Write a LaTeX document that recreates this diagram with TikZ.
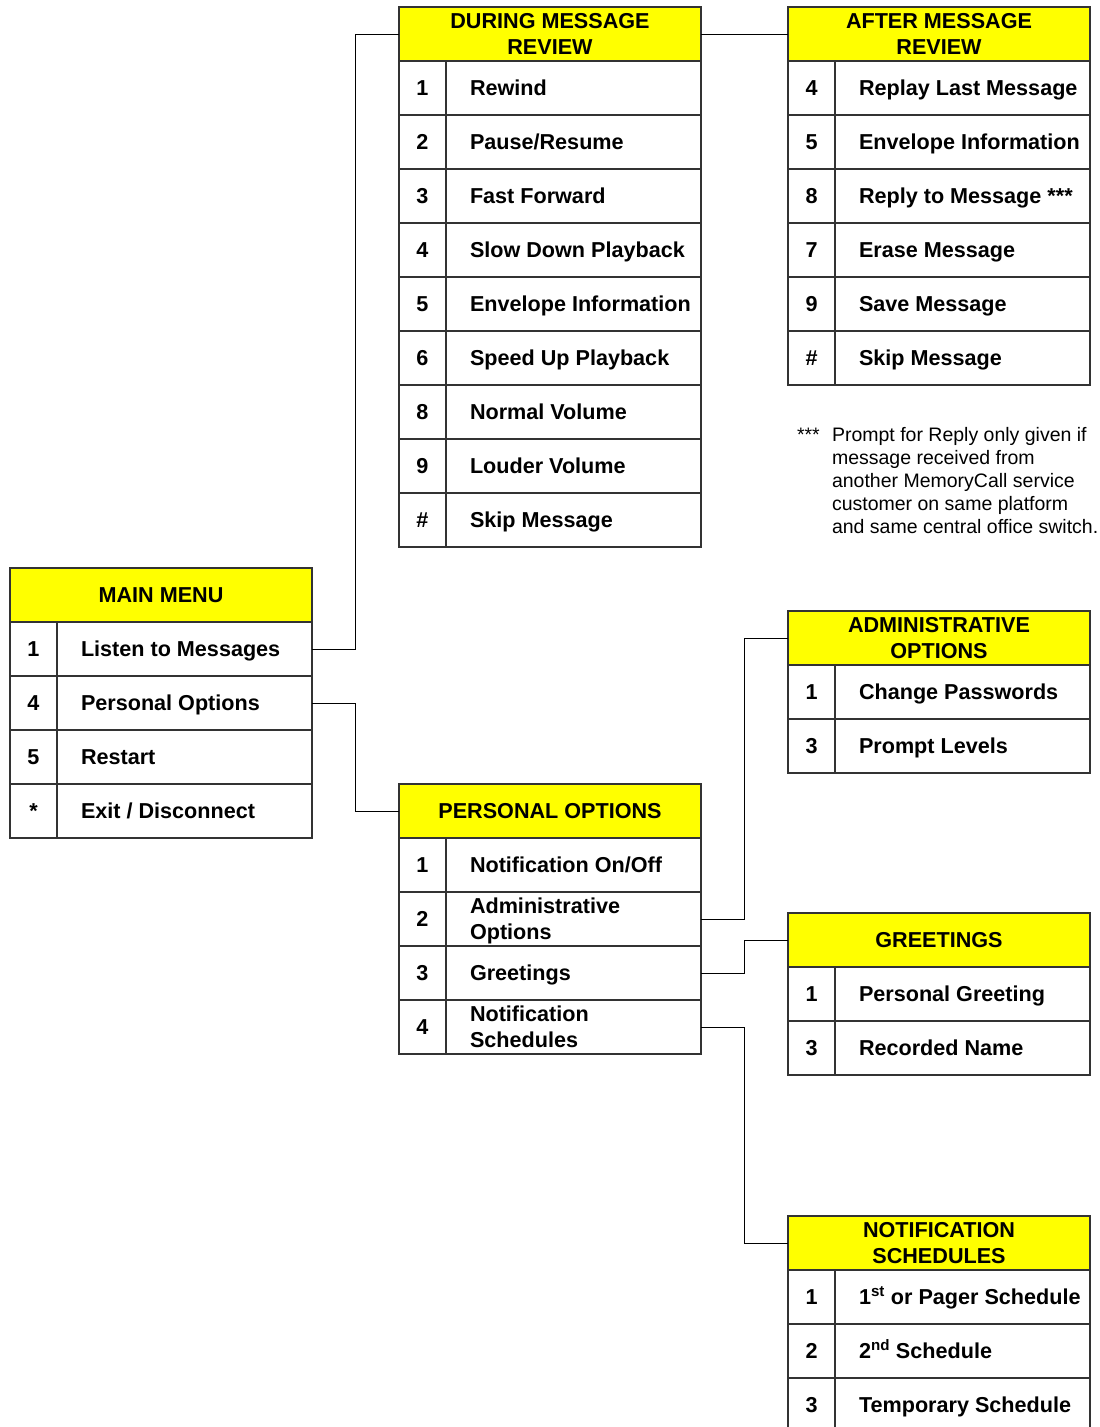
\documentclass[tikz,border=0pt]{standalone}
\usepackage{fontspec}
\setmainfont{Liberation Sans}
\definecolor{headyellow}{RGB}{255,255,0}

\begin{document}
\begin{tikzpicture}[x=1pt, y=-1pt,
		every node/.style={inner sep=0pt, outer sep=0pt, font=\fontsize{21.6}{26}\selectfont\bfseries},
		cell/.style={draw=black!80, line width=1.2pt, minimum height=54},
		head/.style={cell, fill=headyellow, minimum width=302, align=center},
		num/.style={cell, minimum width=47, text height=17, text depth=3},
		wide/.style={cell, minimum width=255, execute at begin node={\hbox to 255pt\bgroup\hskip24pt}, execute at end node={\hfil\egroup}},
		item/.style={wide, text height=17, text depth=3},
		twoline/.style={wide, text height=33.4, text depth=18.6},
		note/.style={font=\fontsize{19.5}{23}\selectfont},
		wire/.style={draw=black, line width=0.9pt}]
		\useasboundingbox (0,0) rectangle (1100,1427);
		% main menu
		\node[head] (mm) at (161,595) {MAIN MENU};
		\node[num] (mm1) at (33.5,649) {1};
		\node[item] (mm1l) at (184.5,649) {Listen to Messages};
		\node[num] (mm4) at (33.5,703) {4};
		\node[item] (mm4l) at (184.5,703) {Personal Options};
		\node[num] (mm5) at (33.5,757) {5};
		\node[item] (mm5l) at (184.5,757) {Restart};
		\node[num] (mmx) at (33.5,811) {*};
		\node[item] (mmxl) at (184.5,811) {Exit / Disconnect};
		% during message review
		\node[head] (dr) at (550,34) {DURING MESSAGE\\REVIEW};
		\node[num] (dr1) at (422.5,88) {1};
		\node[item] (dr1l) at (573.5,88) {Rewind};
		\node[num] (dr2) at (422.5,142) {2};
		\node[item] (dr2l) at (573.5,142) {Pause/Resume};
		\node[num] (dr3) at (422.5,196) {3};
		\node[item] (dr3l) at (573.5,196) {Fast Forward};
		\node[num] (dr4) at (422.5,250) {4};
		\node[item] (dr4l) at (573.5,250) {Slow Down Playback};
		\node[num] (dr5) at (422.5,304) {5};
		\node[item] (dr5l) at (573.5,304) {Envelope Information};
		\node[num] (dr6) at (422.5,358) {6};
		\node[item] (dr6l) at (573.5,358) {Speed Up Playback};
		\node[num] (dr8) at (422.5,412) {8};
		\node[item] (dr8l) at (573.5,412) {Normal Volume};
		\node[num] (dr9) at (422.5,466) {9};
		\node[item] (dr9l) at (573.5,466) {Louder Volume};
		\node[num] (drh) at (422.5,520) {\#};
		\node[item] (drhl) at (573.5,520) {Skip Message};
		% after message review
		\node[head] (ar) at (939,34) {AFTER MESSAGE\\REVIEW};
		\node[num] (ar4) at (811.5,88) {4};
		\node[item] (ar4l) at (962.5,88) {Replay Last Message};
		\node[num] (ar5) at (811.5,142) {5};
		\node[item] (ar5l) at (962.5,142) {Envelope Information};
		\node[num] (ar8) at (811.5,196) {8};
		\node[item] (ar8l) at (962.5,196) {Reply to Message ***};
		\node[num] (ar7) at (811.5,250) {7};
		\node[item] (ar7l) at (962.5,250) {Erase Message};
		\node[num] (ar9) at (811.5,304) {9};
		\node[item] (ar9l) at (962.5,304) {Save Message};
		\node[num] (arh) at (811.5,358) {\#};
		\node[item] (arhl) at (962.5,358) {Skip Message};
		\node[note, anchor=base west] (stars) at (797,441) {***};
		\node[note, anchor=north west, align=left] (remark) at (832,427) {Prompt for Reply only given if\\message received from\\another MemoryCall service\\customer on same platform\\and same central office switch.};
		% personal options
		\node[head] (po) at (550,811) {PERSONAL OPTIONS};
		\node[num] (po1) at (422.5,865) {1};
		\node[item] (po1l) at (573.5,865) {Notification On/Off};
		\node[num] (po2) at (422.5,919) {2};
		\node[twoline] (po2l) at (573.5,919) {\begin{tabular}{@{}l@{}}Administrative\\Options\end{tabular}};
		\node[num] (po3) at (422.5,973) {3};
		\node[item] (po3l) at (573.5,973) {Greetings};
		\node[num] (po4) at (422.5,1027) {4};
		\node[twoline] (po4l) at (573.5,1027) {\begin{tabular}{@{}l@{}}Notification\\Schedules\end{tabular}};
		% administrative options
		\node[head] (ao) at (939,638) {ADMINISTRATIVE\\OPTIONS};
		\node[num] (ao1) at (811.5,692) {1};
		\node[item] (ao1l) at (962.5,692) {Change Passwords};
		\node[num] (ao3) at (811.5,746) {3};
		\node[item] (ao3l) at (962.5,746) {Prompt Levels};
		% greetings
		\node[head] (gr) at (939,940) {GREETINGS};
		\node[num] (gr1) at (811.5,994) {1};
		\node[item] (gr1l) at (962.5,994) {Personal Greeting};
		\node[num] (gr3) at (811.5,1048) {3};
		\node[item] (gr3l) at (962.5,1048) {Recorded Name};
		% notification schedules
		\node[head] (ns) at (939,1243) {NOTIFICATION\\SCHEDULES};
		\node[num] (ns1) at (811.5,1297) {1};
		\node[item] (ns1l) at (962.5,1297) {1\textsuperscript{st} or Pager Schedule};
		\node[num] (ns2) at (811.5,1351) {2};
		\node[item] (ns2l) at (962.5,1351) {2\textsuperscript{nd} Schedule};
		\node[num] (ns3) at (811.5,1405) {3};
		\node[item] (ns3l) at (962.5,1405) {Temporary Schedule};
		% links
		\draw[wire] (mm1l.east) -- ++(43,0) |- (dr.west);
		\draw[wire] (mm4l.east) -- ++(43,0) |- (po.west);
		\draw[wire] (dr.east) -- (ar.west);
		\draw[wire] (po2l.east) -- ++(43,0) |- (ao.west);
		\draw[wire] (po3l.east) -- ++(43,0) |- (gr.west);
		\draw[wire] (po4l.east) -- ++(43,0) |- (ns.west);
\end{tikzpicture}
\end{document}
